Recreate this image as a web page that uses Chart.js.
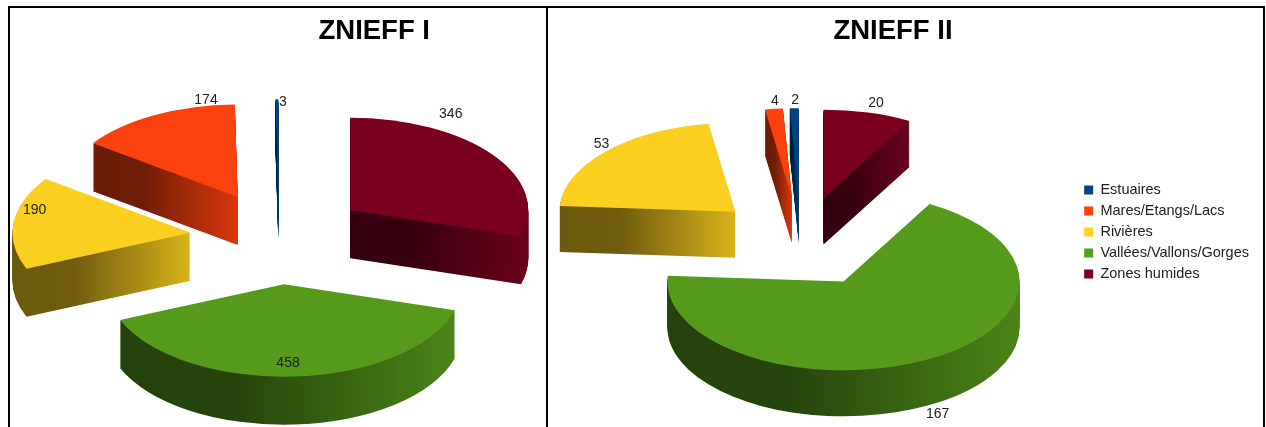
<!DOCTYPE html>
<html lang="fr">

<head>
    <meta charset="UTF-8">
    <title>ZNIEFF</title>
    <style>
        body { margin: 0; background: #fff; }
        #page { position: relative; width: 1266px; height: 427px; overflow: hidden; }
        .box { position: absolute; top: 6px; height: 430px; border: 2px solid #000; box-sizing: border-box; }
        canvas { position: absolute; top: 8px; }
    </style>
</head>

<body>
    <div id="page">
        <div class="box" style="left: 8px; width: 540px;"></div>
        <div class="box" style="left: 546px; width: 719px;"></div>
        <canvas id="chart1" width="536" height="419" style="left: 10px;"></canvas>
        <canvas id="chart2" width="732" height="448" style="left: 527px;"></canvas>
    </div>

    <script src="https://cdn.jsdelivr.net/npm/chart.js"></script>
    <script>
        // clockwise from 12 o'clock, the legend is reversed to read Estuaires first
        var categories = ["Zones humides", "Vallées/Vallons/Gorges", "Rivières", "Mares/Etangs/Lacs", "Estuaires"];
        var valuesZnieff1 = [346, 458, 190, 174, 3];
        var valuesZnieff2 = [20, 167, 53, 4, 2];
        var sliceColors = ["#7e0021", "#579d1c", "#ffd320", "#ff420e", "#004586"];

        // label nudge from the rim of each slice
        var labelShift1 = [[-42, -41], [-6, -13], [21, -12], [51, -15], [6, 3]];
        var labelShift2 = [[8, -9], [10, 55], [-4, -8], [1, -8], [1, -8]];

        var EXPLODE = 89;

        function shade(hex, f) {
            var n = parseInt(hex.slice(1), 16);
            var r = Math.round((n >> 16 & 255) * f);
            var g = Math.round((n >> 8 & 255) * f);
            var b = Math.round((n & 255) * f);
            return "rgb(" + r + "," + g + "," + b + ")";
        }

        // x range of a slice, used for the gradient on its side
        function sliceRange(arc) {
            var lo = arc.x, hi = arc.x;
            for (var i = 0; i <= 40; i++) {
                var a = arc.startAngle + (arc.endAngle - arc.startAngle) * i / 40;
                var x = arc.x + Math.cos(a) * arc.outerRadius;
                lo = Math.min(lo, x);
                hi = Math.max(hi, x);
            }
            return [lo, hi];
        }

        var tiltPlugin = {
            id: "tilt",
            beforeDatasetsDraw(chart) {
                var ctx = chart.ctx;
                var arcs = chart.getDatasetMeta(0).data;
                var colors = chart.data.datasets[0].backgroundColor;
                var opts = chart.options.plugins.tilt;
                var items = arcs.map((arc, i) => {
                    var mid = (arc.startAngle + arc.endAngle) / 2;
                    return { arc: arc, i: i, mid: mid, y: Math.sin(mid) };
                }).sort((a, b) => a.y - b.y);

                var cx = arcs[0].x, cy = arcs[0].y;
                ctx.save();
                ctx.translate(opts.centerX, opts.centerY);
                ctx.scale(1, opts.squash);
                ctx.translate(-cx, -cy);

                items.forEach(it => {
                    var base = it.arc.options;
                    var range = sliceRange(it.arc);
                    var grad = ctx.createLinearGradient(range[0], 0, range[1], 0);
                    grad.addColorStop(0, shade(colors[it.i], 0.42));
                    grad.addColorStop(0.35, shade(colors[it.i], 0.44));
                    grad.addColorStop(1, shade(colors[it.i], 0.85));

                    ctx.save();
                    ctx.translate(Math.cos(it.mid) * EXPLODE, Math.sin(it.mid) * EXPLODE);
                    it.arc.options = { ...base, backgroundColor: grad };
                    for (var d = opts.depth; d > 0; d--) {
                        ctx.save();
                        ctx.translate(0, d / opts.squash);
                        it.arc.draw(ctx);
                        ctx.restore();
                    }
                    it.arc.options = { ...base, backgroundColor: shade(colors[it.i], 0.98) };
                    it.arc.draw(ctx);
                    it.arc.options = base;
                    ctx.restore();
                });
                ctx.restore();

                // value labels
                ctx.save();
                ctx.font = "14px 'Liberation Sans'";
                ctx.fillStyle = "#222";
                ctx.textAlign = "center";
                ctx.textBaseline = "middle";
                var values = chart.data.datasets[0].data;
                items.forEach(it => {
                    var rim = EXPLODE + it.arc.outerRadius;
                    var x = opts.centerX + Math.cos(it.mid) * rim + opts.shifts[it.i][0];
                    var y = opts.centerY + Math.sin(it.mid) * rim * opts.squash + opts.shifts[it.i][1];
                    ctx.fillText(values[it.i], x, y);
                });
                ctx.restore();
                return false;
            }
        };

        function makePie(id, name, values, tilt, radius, padding, titleAlign, showLegend) {
            return new Chart(id, {
                type: "pie",
                data: {
                    labels: categories,
                    datasets: [{
                        data: values,
                        backgroundColor: sliceColors,
                        borderWidth: 0,
                        hoverOffset: 0
                    }]
                },
                options: {
                    responsive: false,
                    animation: false,
                    events: [],
                    radius: radius,
                    layout: { padding: padding },
                    plugins: {
                        tilt: tilt,
                        tooltip: { enabled: false },
                        title: {
                            display: true,
                            text: name,
                            align: titleAlign,
                            color: "#000",
                            font: { family: "'Liberation Sans'", size: 27.5, weight: "bold" },
                            padding: { top: 7, bottom: 6 }
                        },
                        legend: {
                            display: showLegend,
                            position: "right",
                            reverse: true,
                            labels: {
                                boxWidth: 9,
                                boxHeight: 9,
                                padding: 6.5,
                                color: "#222",
                                font: { family: "'Liberation Sans'", size: 14.5 }
                            }
                        }
                    }
                },
                plugins: [tiltPlugin]
            });
        }

        makePie("chart1", "ZNIEFF I", valuesZnieff1,
            { shifts: labelShift1, centerX: 269, centerY: 230, squash: 0.52, depth: 48 },
            178, { left: 118, right: 116 }, "end", false);
        makePie("chart2", "ZNIEFF II", valuesZnieff2,
            { shifts: labelShift2, centerX: 274, centerY: 234, squash: 0.505, depth: 46 },
            176, {}, "center", true);
    </script>
</body>

</html>
